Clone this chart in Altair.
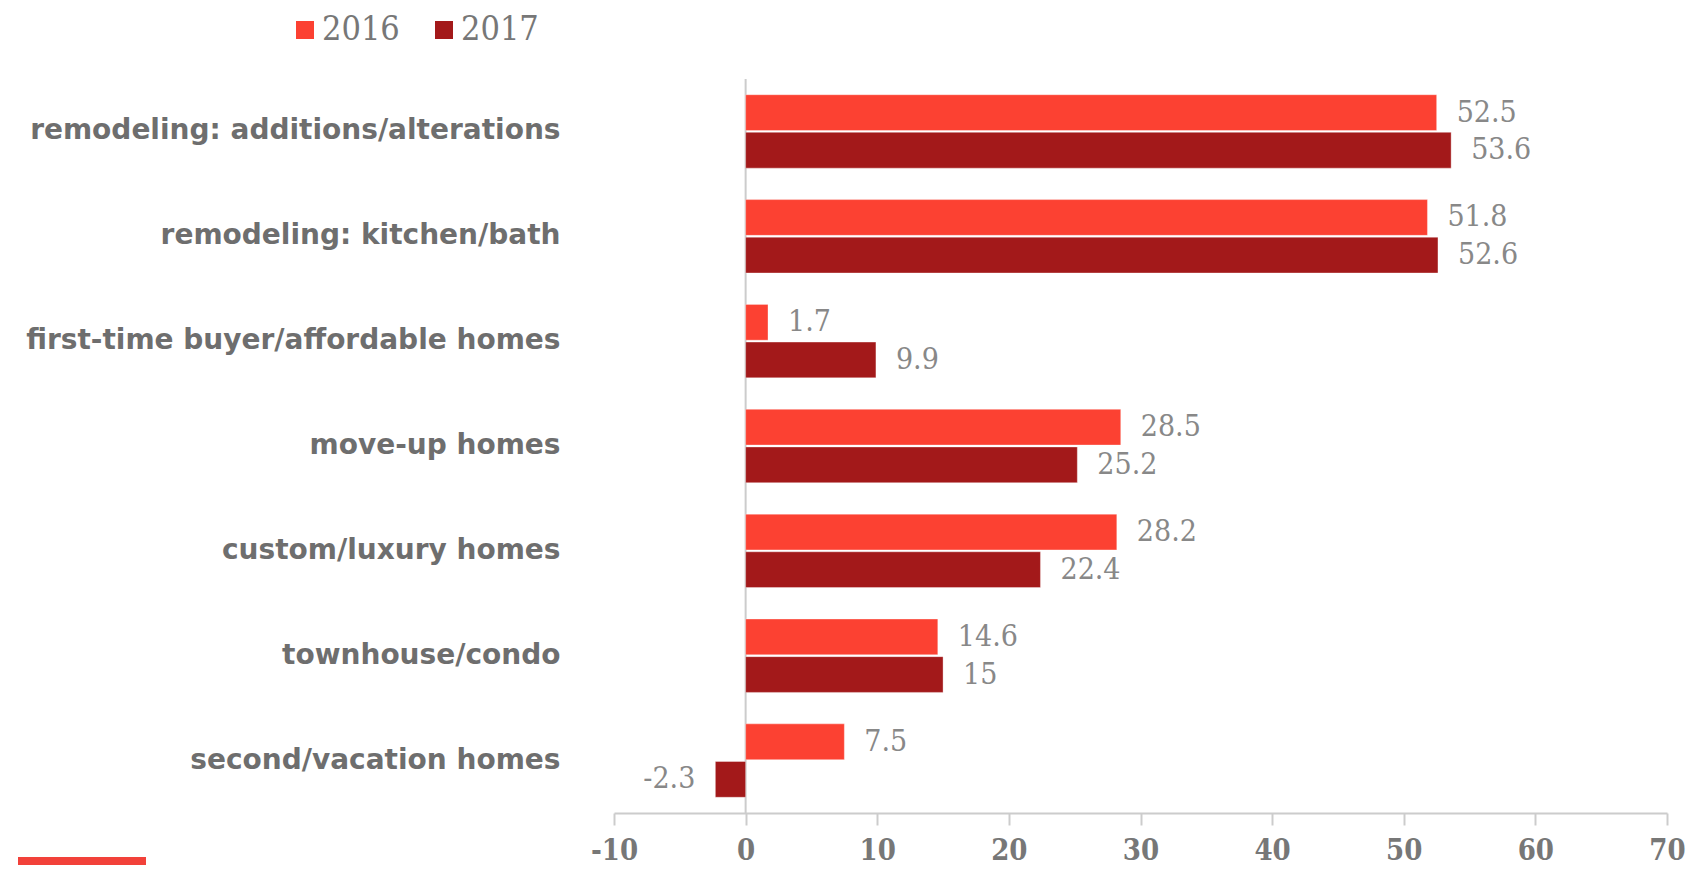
import altair as alt
import pandas as pd

categories = [
    "remodeling: additions/alterations",
    "remodeling: kitchen/bath",
    "first-time buyer/affordable homes",
    "move-up homes",
    "custom/luxury homes",
    "townhouse/condo",
    "second/vacation homes",
]
years = ["2016", "2017"]
v2016 = [52.5, 51.8, 1.7, 28.5, 28.2, 14.6, 7.5]
v2017 = [53.6, 52.6, 9.9, 25.2, 22.4, 15, -2.3]
x_ticks = [-10, 0, 10, 20, 30, 40, 50, 60, 70]
colors = ["#FC4132", "#A3191A"]

rows = []
for c, a, b in zip(categories, v2016, v2017):
    rows.append({"cat": c, "year": years[0], "value": a, "label": f"{a:g}"})
    rows.append({"cat": c, "year": years[1], "value": b, "label": f"{b:g}"})
df = pd.DataFrame(rows)

xscale = alt.Scale(domain=[-10, 70], nice=False, zero=False)
yscale = alt.Scale(paddingInner=0.3, paddingOuter=0.15)
yoff_scale = alt.Scale(paddingInner=0.05)

base = alt.Chart(df)

x_enc = alt.X(
    "value:Q",
    scale=xscale,
    axis=alt.Axis(
        values=x_ticks,
        grid=False,
        title=None,
        domainColor="#cccccc",
        domainWidth=2,
        tickColor="#cccccc",
        tickWidth=2,
        tickSize=12,
        labelFont="DejaVu Serif Condensed",
        labelFontWeight="bold",
        labelFontSize=29,
        labelColor="#777777",
        labelPadding=11,
        labelFlush=False,
        labelOverlap=False,
        labelExpr="'' + datum.value",
    ),
)
y_enc = alt.Y(
    "cat:N",
    sort=categories,
    scale=yscale,
    axis=alt.Axis(
        title=None,
        domain=False,
        ticks=False,
        labelFont="DejaVu Sans",
        labelFontWeight="bold",
        labelFontSize=28,
        labelColor="#6e6e6e",
        labelPadding=54,
        labelLimit=700,
    ),
)
yoff = alt.YOffset("year:N", sort=years, scale=yoff_scale)

zero_rule = alt.Chart(pd.DataFrame({"z": [0]})).mark_rule(
    color="#cccccc", strokeWidth=2
).encode(x=alt.X("z:Q", scale=xscale))

bars = base.mark_bar(strokeWidth=1, strokeOpacity=0.35, stroke="#ffffff").encode(
    x=x_enc,
    y=y_enc,
    yOffset=yoff,
    color=alt.Color(
        "year:N",
        sort=years,
        scale=alt.Scale(domain=years, range=colors),
        legend=alt.Legend(
            title=None,
            orient="none",
            direction="horizontal",
            legendX=-326,
            legendY=-66,
            symbolType="square",
            symbolSize=324,
            symbolStrokeWidth=0,
            labelFont="DejaVu Serif Condensed",
            labelFontSize=34,
            labelColor="#777777",
            labelOffset=0,
            columnPadding=27,
            padding=0,
        ),
    ),
)

text_common = dict(
    font="DejaVu Serif Condensed",
    fontSize=30,
    color="#888888",
    baseline="middle",
)
pos_text = base.transform_filter("datum.value >= 0").mark_text(
    align="left", dx=20, **text_common
).encode(
    x=alt.X("value:Q", scale=xscale),
    y=alt.Y("cat:N", sort=categories, scale=yscale),
    yOffset=yoff,
    text="label:N",
)
neg_text = base.transform_filter("datum.value < 0").mark_text(
    align="right", dx=-20, **text_common
).encode(
    x=alt.X("value:Q", scale=xscale),
    y=alt.Y("cat:N", sort=categories, scale=yscale),
    yOffset=yoff,
    text="label:N",
)

deco = alt.Chart(pd.DataFrame({"d": [1]})).mark_rect(color="#F2413A").encode(
    x=alt.value(-596), x2=alt.value(-468), y=alt.value(778), y2=alt.value(786)
)

chart = (
    alt.layer(zero_rule, bars, pos_text, neg_text, deco)
    .properties(
        width=1053,
        height=734,
        autosize=alt.AutoSizeParams(type="none"),
        padding={"left": 606, "top": 71, "right": 28, "bottom": 52},
    )
    .configure_view(stroke=None)
)

chart.save("out.html", embed_options={"renderer": "svg", "actions": False})
